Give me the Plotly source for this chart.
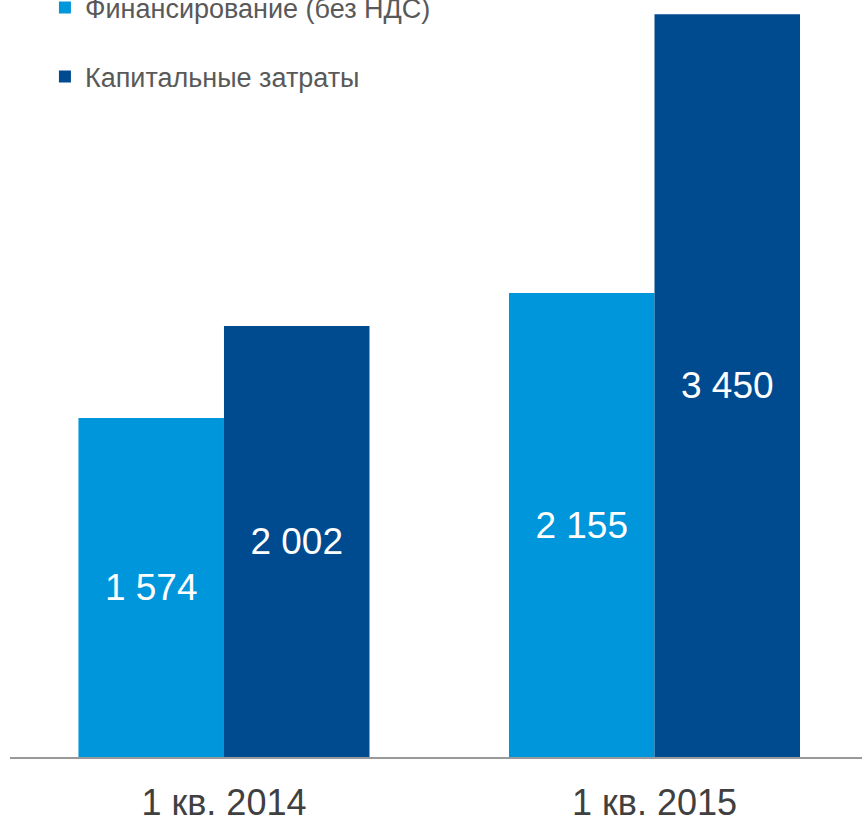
import plotly.graph_objects as go

categories = ["1 кв. 2014", "1 кв. 2015"]
series_names = ["Финансирование (без НДС)", "Капитальные затраты"]
financing = [1574, 2155]
capex = [2002, 3450]
labels_fin = ["1 574", "2 155"]
labels_capex = ["2 002", "3 450"]

colors = ["#0096DB", "#004A8F"]

fig = go.Figure()
for name, vals, labs, col, grp in [
    (series_names[0], financing, labels_fin, colors[0], "a"),
    (series_names[1], capex, labels_capex, colors[1], "b"),
]:
    fig.add_trace(go.Bar(
        x=categories, y=vals, name=name, marker=dict(color=col, line=dict(width=0)),
        text=labs, textposition="inside", insidetextanchor="middle",
        textfont=dict(family="Liberation Sans", size=37, color="white"),
        legendgroup=grp, textangle=0,
    ))

fig.update_layout(
    width=862, height=819,
    margin=dict(l=10, r=0, t=0, b=62, autoexpand=False),
    barmode="group", bargap=0.324, bargroupgap=0,
    plot_bgcolor="white", paper_bgcolor="white",
    uniformtext=dict(minsize=10, mode="show"),
    legend=dict(
        x=0.041, y=1.022, xanchor="left", yanchor="top",
        font=dict(family="Liberation Sans", size=27, color="#595959"),
        tracegroupgap=31, traceorder="grouped", bgcolor="rgba(0,0,0,0)",
        itemwidth=30,
    ),
    showlegend=True,
)
fig.update_xaxes(
    range=[-0.497, 1.482], showline=True, linecolor="#999999", linewidth=2,
    ticks="", tickfont=dict(family="Liberation Sans", size=36, color="#404040"),
    ticklabelstandoff=13,
)
fig.update_yaxes(range=[0, 3516], visible=False, showgrid=False, zeroline=False)

fig.write_html("out.html", config={"displayModeBar": False},
               post_script="document.body.style.margin='0';")
